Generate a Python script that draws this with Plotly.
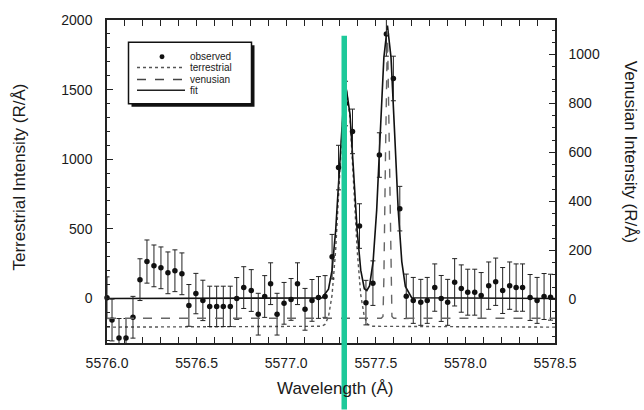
import plotly.graph_objects as go

# ---------------- data ----------------
obs_wl = [5576.000, 5576.028, 5576.067, 5576.106, 5576.145, 5576.184, 5576.223, 5576.262,
          5576.301, 5576.340, 5576.379, 5576.418, 5576.457, 5576.496, 5576.535, 5576.573,
          5576.612, 5576.649, 5576.688, 5576.724, 5576.763, 5576.805, 5576.844, 5576.880,
          5576.913, 5576.949, 5576.988, 5577.027, 5577.063, 5577.105, 5577.144, 5577.180,
          5577.217, 5577.256, 5577.292, 5577.331, 5577.370, 5577.409, 5577.445, 5577.484,
          5577.520, 5577.559, 5577.598, 5577.634, 5577.670, 5577.709, 5577.751, 5577.787,
          5577.829, 5577.865, 5577.901, 5577.940, 5577.977, 5578.013, 5578.052, 5578.088,
          5578.130, 5578.169, 5578.208, 5578.247, 5578.283, 5578.319, 5578.361, 5578.400,
          5578.439, 5578.475]
obs_int = [5, -155, -284, -284, -135, 135, 265, 234,
           220, 184, 199, 177, -50, 35, -14, -57,
           -57, -57, -57, 0, 78, 57, -113, 14,
           106, -113, -35, -7, 106, -78, -14, 7,
           14, 300, 940, 1400, 1200, 520, -30, 110,
           1030, 1900, 1580, 645, 15, -14, -28, -14,
           78, 0, -28, 116, 71, 45, 45, 21,
           92, 120, 57, 92, 78, 78, 7, -14,
           14, 9]
obs_err = [150, 150, 140, 140, 150, 150, 155, 150,
           150, 150, 150, 150, 150, 145, 145, 145,
           145, 145, 145, 150, 150, 150, 150, 150,
           150, 150, 150, 150, 150, 150, 150, 150,
           150, 160, 160, 160, 160, 160, 160, 160,
           160, 160, 160, 160, 160, 165, 165, 165,
           170, 165, 165, 170, 170, 165, 165, 165,
           170, 170, 165, 170, 170, 170, 165, 165,
           165, 165]

fit_wl = [5576.000, 5577.200, 5577.236, 5577.256, 5577.276, 5577.296, 5577.316, 5577.336,
          5577.356, 5577.376, 5577.396, 5577.416, 5577.436, 5577.450, 5577.465, 5577.485,
          5577.505, 5577.525, 5577.545, 5577.565, 5577.585, 5577.605, 5577.625, 5577.645,
          5577.665, 5577.700, 5578.500]
fit_int = [0, 3, 66, 203, 487, 910, 1324, 1500,
           1324, 910, 487, 203, 70, 57, 90, 265,
           636, 1189, 1730, 1960, 1730, 1189, 636, 265,
           86, 5, 0]

terr_wl = [5576.000, 5577.196, 5577.216, 5577.236, 5577.256, 5577.276, 5577.296, 5577.316,
           5577.336, 5577.356, 5577.376, 5577.396, 5577.416, 5577.436, 5577.456, 5577.476,
           5578.500]
terr_int = [-206, -200, -187, -131, 25, 348, 829, 1300,
            1500, 1300, 829, 348, 25, -131, -187, -200,
            -206]

ven_wl = [5576.000, 5577.530, 5577.540, 5577.545, 5577.555, 5577.565, 5577.575, 5577.585,
          5577.590, 5577.600, 5578.500]
ven_int = [-77, -77, -70, 82, 637, 1100, 637, 82,
           -70, -77, -77]

x_ticks = [5576.0, 5576.5, 5577.0, 5577.5, 5578.0, 5578.5]
x_ticktext = ["5576.0", "5576.5", "5577.0", "5577.5", "5578.0", "5578.5"]

# ---------------- layout helpers (pixel -> paper) ----------------
W, H = 644, 410
PL, PR, PT, PB = 107, 555, 17, 343


def px(x):
    return (x - PL) / (PR - PL)


def py(y):
    return (PB - y) / (PB - PT)


FONT = "Liberation Sans, Arial, sans-serif"
TXT = "#1a1a1a"

fig = go.Figure()

fig.add_trace(go.Scatter(
    x=terr_wl, y=terr_int, mode="lines", name="terrestrial",
    line=dict(color="#555555", width=1.4, dash="dot"), yaxis="y"))
fig.add_trace(go.Scatter(
    x=ven_wl, y=ven_int, mode="lines", name="venusian",
    line=dict(color="#666666", width=1.4, dash="dash"), yaxis="y2"))
fig.add_trace(go.Scatter(
    x=fit_wl, y=fit_int, mode="lines", name="fit",
    line=dict(color="#111111", width=1.6), yaxis="y"))
fig.add_trace(go.Scatter(
    x=obs_wl, y=obs_int, mode="markers", name="observed",
    marker=dict(color="#111111", size=5.5),
    error_y=dict(type="data", array=obs_err, visible=True, color="#222222",
                 thickness=1, width=2.5),
    cliponaxis=False, yaxis="y"))

axis_common = dict(showline=True, linecolor="#222222", linewidth=1.5,
                   showgrid=False, zeroline=False,
                   tickfont=dict(family=FONT, size=14, color=TXT))

fig.update_layout(
    width=W, height=H, autosize=False,
    margin=dict(l=PL, r=W - PR, t=PT, b=H - PB, pad=0),
    paper_bgcolor="white", plot_bgcolor="white",
    showlegend=False,
    xaxis=dict(range=[5576.0, 5578.5], tickmode="array", tickvals=x_ticks,
               ticktext=x_ticktext, ticks="inside", ticklen=6, tickwidth=1.2,
               tickcolor="#222222", mirror="allticks", ticklabelstandoff=6,
               minor=dict(dtick=0.1, ticks="inside", ticklen=3, tickcolor="#222222"),
               **axis_common),
    yaxis=dict(range=[-320, 2000], dtick=500, tick0=0, ticks="inside", ticklen=6,
               tickwidth=1.2, tickcolor="#222222", mirror=False, ticklabelstandoff=10,
               minor=dict(dtick=100, ticks="inside", ticklen=3, tickcolor="#222222"),
               **axis_common),
    yaxis2=dict(range=[-178, 1141], dtick=200, tick0=0, overlaying="y", side="right",
                ticks="inside", ticklen=6, tickwidth=1.2, tickcolor="#222222",
                ticklabelstandoff=9,
                minor=dict(dtick=50, ticks="inside", ticklen=3, tickcolor="#222222"),
                **axis_common),
)

# axis titles
title_font = dict(family=FONT, size=17, color=TXT)
fig.add_annotation(text="Wavelength (Å)", xref="paper", yref="paper",
                   x=px(335), y=py(389), showarrow=False, font=title_font,
                   xanchor="center", yanchor="middle")
fig.add_annotation(text="Terrestrial Intensity (R/Å)", xref="paper", yref="paper",
                   x=px(20), y=py(176), showarrow=False, font=title_font, textangle=-90,
                   xanchor="center", yanchor="middle")
fig.add_annotation(text="Venusian Intensity (R/Å)", xref="paper", yref="paper",
                   x=px(630), y=py(150), showarrow=False, font=title_font, textangle=90,
                   xanchor="center", yanchor="middle")

# hand-drawn legend box with drop shadow
shapes = []
shapes.append(dict(type="rect", xref="paper", yref="paper",
                   x0=px(131.5), x1=px(254.5), y0=py(104.5), y1=py(42.5),
                   fillcolor="#111111", line=dict(width=0), layer="above"))
shapes.append(dict(type="rect", xref="paper", yref="paper",
                   x0=px(128.5), x1=px(251.5), y0=py(101.5), y1=py(39.5),
                   fillcolor="white", line=dict(color="#111111", width=1.5), layer="above"))
rows = [54, 65, 77, 88]
labels = ["observed", "terrestrial", "venusian", "fit"]
# observed dot
shapes.append(dict(type="circle", xref="paper", yref="paper",
                   x0=px(159.5), x1=px(164.5), y0=py(rows[0] + 2.5), y1=py(rows[0] - 2.5),
                   fillcolor="#111111", line=dict(width=0), layer="above"))
for r, (col, dash, wd) in zip(rows[1:], [("#555555", "dot", 1.4),
                                         ("#444444", "dash", 1.4),
                                         ("#222222", "solid", 1.5)]):
    shapes.append(dict(type="line", xref="paper", yref="paper",
                       x0=px(137), x1=px(185), y0=py(r), y1=py(r),
                       line=dict(color=col, width=wd, dash=dash), layer="above"))
for r, lab in zip(rows, labels):
    fig.add_annotation(text=lab, xref="paper", yref="paper", x=px(188), y=py(r),
                       showarrow=False, xanchor="left", yanchor="middle",
                       font=dict(family=FONT, size=10, color=TXT))

# green vertical marker line overlaid on the figure
shapes.append(dict(type="rect", xref="paper", yref="paper",
                   x0=px(341.5), x1=px(347), y0=py(410), y1=py(33),
                   fillcolor="#1ec99a", line=dict(width=0), layer="above"))

fig.update_layout(shapes=shapes)

fig.write_html("out.html")
